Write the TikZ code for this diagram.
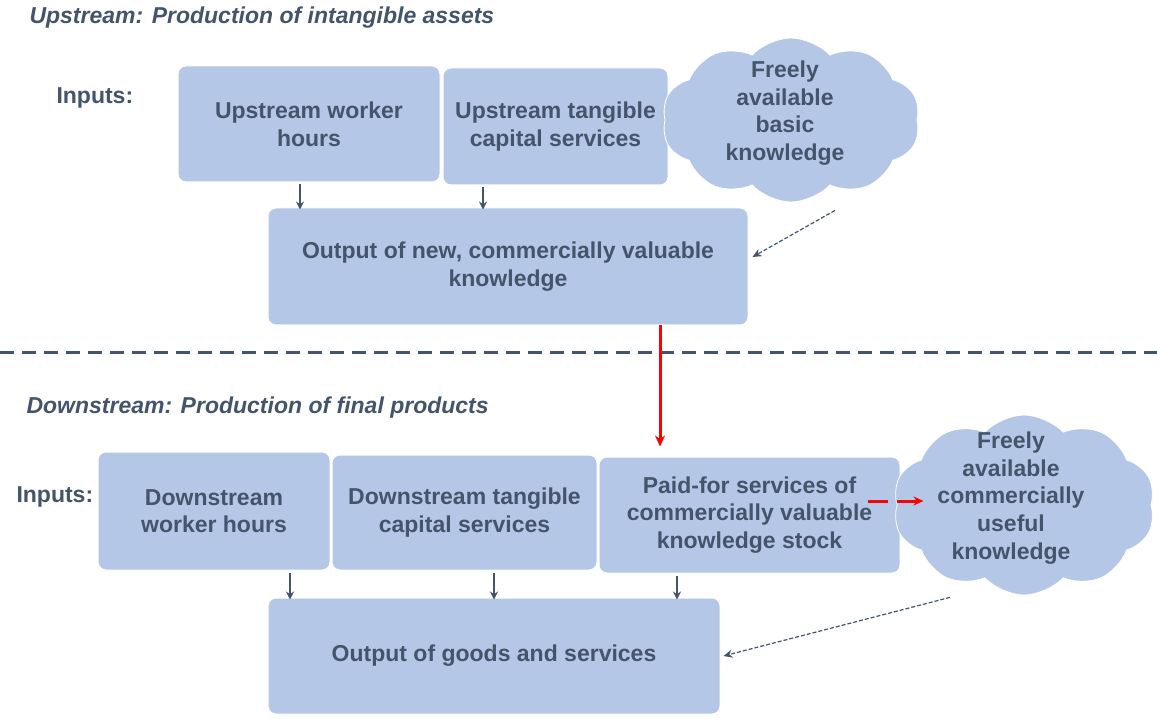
\documentclass[tikz,border=0pt]{standalone}
\usepackage{fontspec}
\setmainfont{Liberation Sans}
\usetikzlibrary{shapes.symbols,arrows.meta}
\definecolor{boxblue}{HTML}{B4C7E7}
\definecolor{slate}{HTML}{44546A}
\definecolor{inkred}{HTML}{FF0000}
\begin{document}
\begin{tikzpicture}[x=1pt,y=-1pt,
  every node/.style={font=\fontsize{23}{27.6}\selectfont\bfseries, text=slate},
  box/.style={rectangle, rounded corners=8pt, fill=boxblue, draw=white,
    line width=1pt, align=center, inner sep=0pt},
  puffy/.style={cloud, cloud puffs=10, cloud puff arc=95, cloud ignores aspect,
    fill=boxblue, draw=white, line width=0.8pt, inner sep=0pt},
  heading/.style={anchor=west, font=\fontsize{23}{27.6}\selectfont\bfseries\itshape},
  tag/.style={anchor=west},
  feed/.style={draw=slate, line width=1.5pt, -{Stealth[length=8pt,width=8pt]}},
  hint/.style={draw=slate, line width=1.2pt, dash pattern=on 4pt off 2pt,
    -{Stealth[length=9pt,width=8pt]}},
  transfer/.style={draw=inkred, line width=3pt, -{Stealth[length=11pt,width=10pt]}},
  spill/.style={draw=inkred, line width=3pt, dash pattern=on 20pt off 9pt,
    -{Stealth[length=10pt,width=9pt]}},
  divider/.style={draw=slate, line width=3pt, dash pattern=on 14pt off 8pt}]
\useasboundingbox (0,0) rectangle (1157,719);

% ---------- upstream stage ----------
\node[heading] (t1) at (26,18) {Upstream: Production of intangible assets};
\node[tag] (in1) at (53,98) {Inputs:};
\node[box, minimum width=262pt, minimum height=116pt] (u1) at (309,124)
  {Upstream worker\\hours};
\node[box, minimum width=225pt, minimum height=117pt] (u2) at (555.5,126.5)
  {Upstream tangible\\capital services};
\node[puffy, minimum width=258pt, minimum height=164pt] (c1) at (791,120) {};
\node[align=center] (c1t) at (785,113) {Freely\\available\\basic\\knowledge};
\node[box, minimum width=480pt, minimum height=117pt] (o1) at (508,266.5)
  {Output of new, commercially valuable\\knowledge};

\draw[feed] ([xshift=-9pt,yshift=-2pt]u1.south) -- ([xshift=-9pt,yshift=-2pt]u1.south |- o1.north);
\draw[feed] ([xshift=-72.5pt,yshift=-2pt]u2.south) -- ([xshift=-72.5pt,yshift=-2pt]u2.south |- o1.north);
\draw[hint] ([xshift=44pt,yshift=-8pt]c1.south) -- ([xshift=4pt,yshift=9.5pt]o1.east);

% ---------- boundary between the stages ----------
\coordinate (sepL) at (0,353);
\coordinate (sepR) at (1157,353);
\draw[divider] (sepL) -- (sepR);

% ---------- downstream stage ----------
\node[heading] (t2) at (23,408) {Downstream: Production of final products};
\node[tag] (in2) at (13,497) {Inputs:};
\node[box, minimum width=232pt, minimum height=118pt] (d1) at (214,511)
  {Downstream\\worker hours};
\node[box, minimum width=265pt, minimum height=115pt] (d2) at (464.5,512.5)
  {Downstream tangible\\capital services};
\node[box, minimum width=301pt, minimum height=116pt] (d3) at (749.5,515)
  {Paid-for services of\\commercially valuable\\knowledge stock};
\node[puffy, minimum width=262pt, minimum height=180pt] (c2) at (1024,505) {};
\node[align=center] (c2t) at (1011,498)
  {Freely\\available\\commercially\\useful\\knowledge};
\node[box, minimum width=452pt, minimum height=116pt] (o2) at (494,656)
  {Output of goods and services};

\draw[transfer] ([xshift=152pt]o1.south) -- ([xshift=152pt,yshift=10pt]o1.south |- d3.north);
\draw[spill] ([xshift=-33pt,yshift=14pt]d3.east) -- ([xshift=23pt,yshift=14pt]d3.east);

\draw[feed] ([xshift=76pt,yshift=-2pt]d1.south) -- ([xshift=76pt,yshift=-2pt]d1.south |- o2.north);
\draw[feed] ([xshift=29.5pt,yshift=-2pt]d2.south) -- ([xshift=29.5pt,yshift=-2pt]d2.south |- o2.north);
\draw[feed] ([xshift=-72.5pt,yshift=-2pt]d3.south) -- ([xshift=-72.5pt,yshift=-2pt]d3.south |- o2.north);
\draw[hint] ([xshift=-74pt,yshift=-2pt]c2.south) -- ([xshift=3pt]o2.east);
\end{tikzpicture}
\end{document}
